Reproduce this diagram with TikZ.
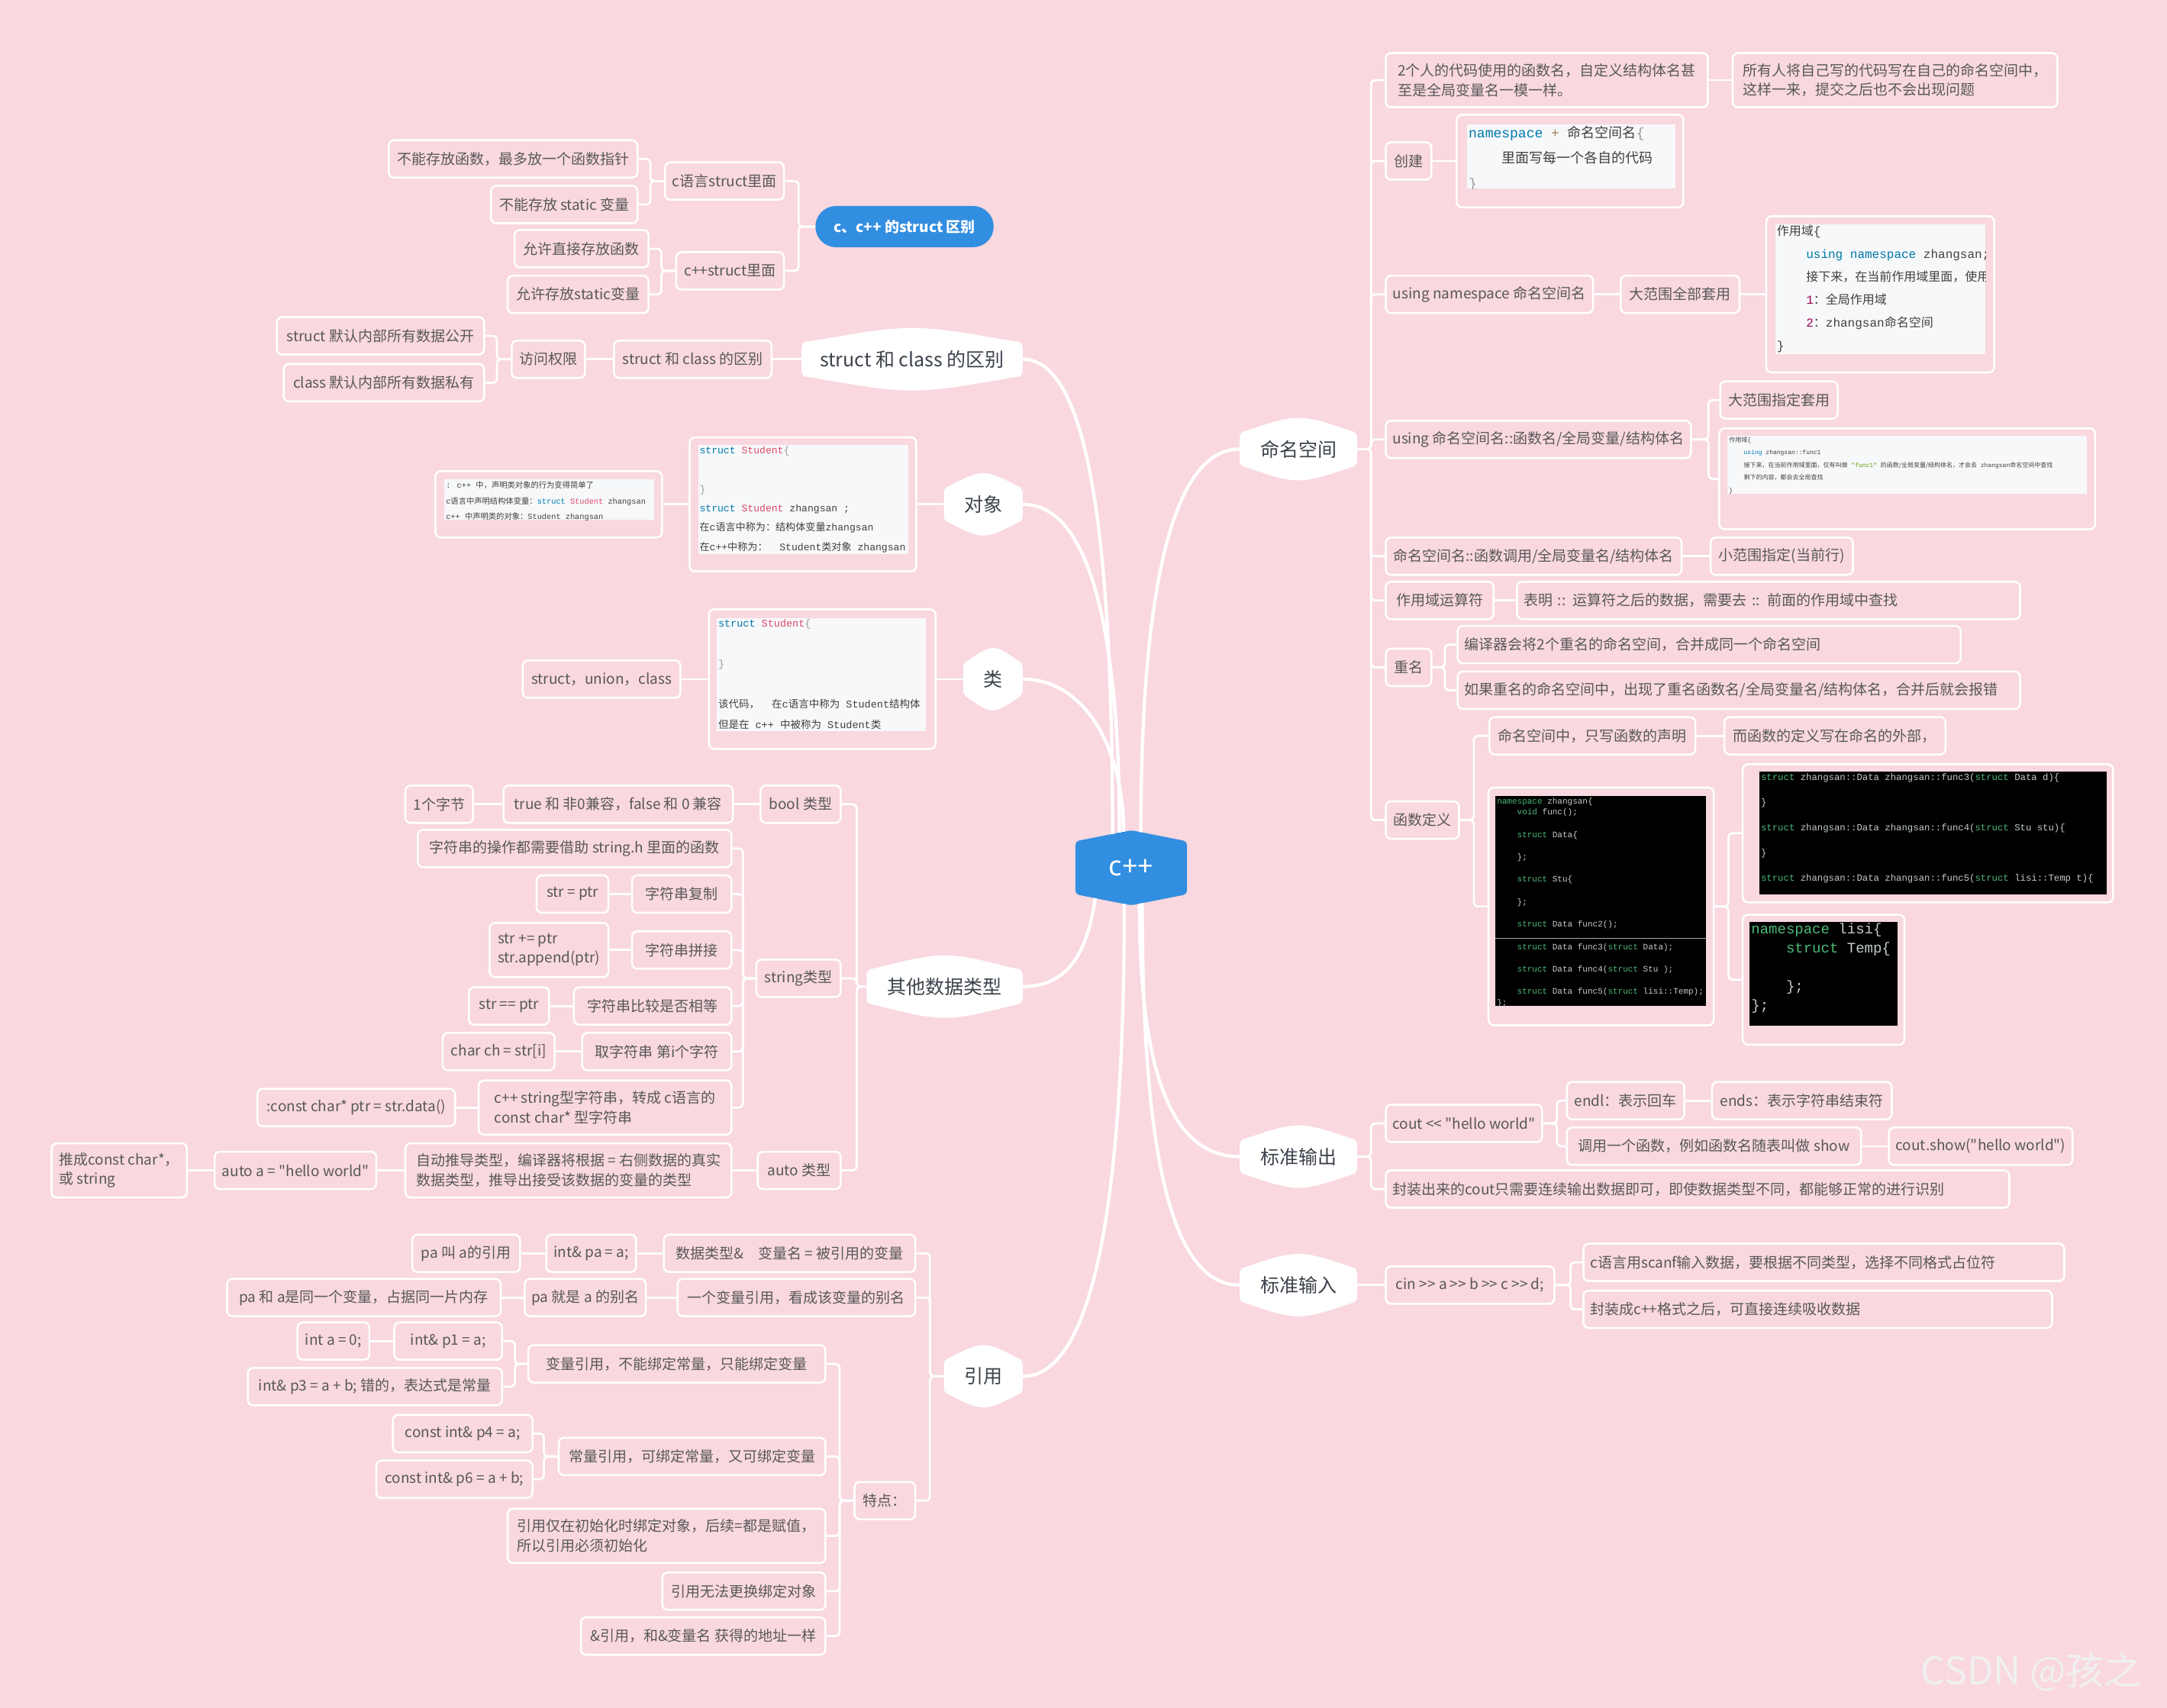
\documentclass[tikz,border=0pt]{standalone}
\usepackage{fontspec}
\usepackage{xcolor}
\usetikzlibrary{positioning,backgrounds,calc}

\newfontfamily\cjk{Noto Sans CJK SC}
\newfontfamily\codemono{Liberation Mono}
\newfontfamily\latinsans{Noto Sans}

\definecolor{bgpink}{RGB}{249,216,223}
\definecolor{cppblue}{RGB}{50,142,224}
\definecolor{txtgray}{RGB}{88,88,88}
\definecolor{topicgray}{RGB}{60,66,76}
\definecolor{codebg}{RGB}{246,248,250}
\definecolor{kwblue}{RGB}{0,119,170}
\definecolor{clsred}{RGB}{221,74,104}
\definecolor{pungray}{RGB}{153,153,153}
\definecolor{numpurple}{RGB}{153,0,85}
\definecolor{strgreen}{RGB}{102,153,0}
\definecolor{opbrown}{RGB}{166,127,89}
\definecolor{termgreen}{RGB}{78,186,120}
\definecolor{termtext}{RGB}{196,206,198}

\newcommand\nodefont{\cjk\fontsize{19}{25.5}\selectfont}
\newcommand\topicfont{\cjk\fontsize{25}{30}\selectfont}
\newcommand\hz[1]{{\cjk #1}}
\newcommand\ckw[1]{\textcolor{kwblue}{#1}}
\newcommand\ccl[1]{\textcolor{clsred}{#1}}
\newcommand\cpu[1]{\textcolor{pungray}{#1}}
\newcommand\cop[1]{\textcolor{opbrown}{#1}}
\newcommand\cnum[1]{\textcolor{numpurple}{#1}}
\newcommand\cstr[1]{\textcolor{strgreen}{#1}}
\newcommand\gk[1]{\textcolor{termgreen}{#1}}
\newcommand\lfork[3][9]{\draw[link] (#2.west) -- ++(-#1,0) |- (#3.east);}
\newcommand\rfork[3][9]{\draw[link] (#2.east) -- ++(#1,0) |- (#3.west);}
\newcommand\lline[2]{\draw[link] (#1.west) -- (#2.east);}
\newcommand\rline[2]{\draw[link] (#1.east) -- (#2.west);}

\begin{document}
\begin{tikzpicture}[
  x=1.8106pt, y=-1.8106pt,
  box/.style={draw=white, line width=2.6pt, rounded corners=7pt, inner xsep=9pt, inner ysep=5pt, minimum height=49pt, font=\nodefont, text=txtgray, align=left},
  two/.style={minimum height=71pt},
  bw/.style={minimum width=#1*1.8106pt},
  bh/.style={minimum height=#1*1.8106pt},
  topic/.style={fill=white, rounded corners=8pt, minimum height=47pt, inner sep=0pt, font=\topicfont, text=topicgray},
  picbox/.style={draw=white, line width=2.6pt, rounded corners=7pt, inner sep=0pt},
  paper/.style={fill=codebg, inner sep=0pt, anchor=north west},
  term/.style={fill=black, inner sep=0pt, anchor=north west},
  code/.style={inner sep=2pt, align=left, anchor=north west, text=black!75},
  link/.style={draw=white, line width=2.8pt, rounded corners=5pt},
  trunk/.style={draw=white, line width=4.4pt}
]
\useasboundingbox (0,0) rectangle (1568,1236);

\node[minimum width=146pt, minimum height=69pt, inner sep=0pt, font=\latinsans\bfseries\fontsize{36}{40}\selectfont, text=white] (cpp) at (818.5,628) {c++};

\node[fill=cppblue, rounded corners=27pt, bw=129, minimum height=54pt, inner sep=0pt, font=\cjk\bfseries\fontsize{19}{23}\selectfont, text=white] (cdiff) at (654.5,164) {c、c++ 的struct 区别};
\node[box, bw=86, anchor=east] (cstr) at (568,131) {c语言struct里面};
\node[box, bw=78, anchor=east] (cppstr) at (568,196) {c++struct里面};
\node[box, bw=180, anchor=east] (cs1) at (462,115) {不能存放函数，最多放一个函数指针};
\node[box, bw=106, anchor=east] (cs2) at (462,148) {不能存放 static 变量};
\node[box, bw=97, anchor=east] (cps1) at (470,180) {允许直接存放函数};
\node[box, bw=102, anchor=east] (cps2) at (470,213) {允许存放static变量};

\node[topic, bw=160] (sc) at (660,260) {struct 和 class 的区别};
\node[box, bw=114, anchor=east] (scd) at (559,260) {struct 和 class 的区别};
\node[box, bw=53, anchor=east] (acc) at (424,260) {访问权限};
\node[box, bw=150, anchor=east] (acc1) at (351,243) {struct 默认内部所有数据公开};
\node[box, bw=145, anchor=east] (acc2) at (351,277) {class 默认内部所有数据私有};

\node[topic, bw=57] (dx) at (711.5,365) {对象};
\node[picbox, bw=164, bh=97] (dxpic) at (581,365) {};
\node[paper, bw=152, bh=79] (dxbg) at (505,322) {};
\node[code, font=\codemono\fontsize{13.1}{25.3}\selectfont] at (dxbg.north west) {\ckw{struct} \ccl{Student}\cpu{\{}\\ ~\\ \cpu{\}}\\ \ckw{struct} \ccl{Student} zhangsan ;\\ \hz{在}c\hz{语言中称为：结构体变量}zhangsan\\ \hz{在}c++\hz{中称为：}\ \ Student\hz{类对象} zhangsan};
\node[picbox, bw=164, bh=48] (dxpic2) at (397,365) {};
\node[paper, bw=151.5, bh=29] (dx2bg) at (321.5,347) {};
\node[code, font=\codemono\fontsize{10.3}{20.8}\selectfont] at (dx2bg.north west) {: c++ \hz{中，声明类对象的行为变得简单了}\\ c\hz{语言中声明结构体变量：}\ckw{struct} \ccl{Student} zhangsan\\ c++ \hz{中声明类的对象：}Student zhangsan};

\node[topic, bw=43] (lei) at (718.5,491.5) {类};
\node[picbox, bw=164, bh=101] (leipic) at (595,491.5) {};
\node[paper, bw=151.5, bh=82] (leibg) at (518.5,447) {};
\begin{scope}
\clip (leibg.north west) rectangle (leibg.south east);
\node[code, font=\codemono\fontsize{13.5}{26.6}\selectfont] at (leibg.north west) {\ckw{struct} \ccl{Student}\cpu{\{}\\ ~\\ \cpu{\}}\\ ~\\ \hz{该代码，}\ \ \hz{在}c\hz{语言中称为} Student\hz{结构体}\\ \hz{但是在} c++ \hz{中被称为} Student\hz{类}};
\end{scope}
\node[box, bw=114, anchor=east] (leisub) at (493,491.5) {struct，union，class};

\node[topic, bw=113] (qt) at (683.5,714) {其他数据类型};
\node[box, bw=58, anchor=east] (tbool) at (609,582) {bool 类型};
\node[box, bw=61, anchor=east] (tstr) at (609,708) {string类型};
\node[box, bw=60, anchor=east] (tauto) at (609,847) {auto 类型};
\node[box, bw=166, anchor=east] (b1) at (531,582) {true 和 非0兼容，false 和 0 兼容};
\node[box, bw=49, anchor=east] (b2) at (343,582) {1个字节};
\node[box, bw=227, anchor=east] (s1) at (530,614) {字符串的操作都需要借助 string.h 里面的函数};
\node[box, bw=72, anchor=east] (s2) at (530,647) {字符串复制};
\node[box, bw=52, anchor=east] (s2a) at (441,647) {str = ptr};
\node[box, bw=72, anchor=east] (s3) at (530,687.5) {字符串拼接};
\node[box, two, bw=86, anchor=east] (s3a) at (441,687.5) {str += ptr\\str.append(ptr)};
\node[box, bw=114, anchor=east] (s4) at (530,728) {字符串比较是否相等};
\node[box, bw=58, anchor=east] (s4a) at (398,728) {str == ptr};
\node[box, bw=108, anchor=east] (s5) at (530,761) {取字符串 第i个字符};
\node[box, bw=81, anchor=east] (s5a) at (402,761) {char ch = str[i]};
\node[box, two, bw=183, anchor=east] (s6) at (530,801.5) {c++ string型字符串，转成 c语言的\\const char* 型字符串};
\node[box, bw=143, anchor=east] (s6a) at (330,801.5) {:const char* ptr = str.data()};
\node[box, two, bw=236, anchor=east] (au1) at (530,847) {自动推导类型，编译器将根据 = 右侧数据的真实\\数据类型，推导出接受该数据的变量的类型};
\node[box, bw=117, anchor=east] (au2) at (273,847) {auto a = "hello world"};
\node[box, two, bw=98, anchor=east] (au3) at (136,847) {推成const char*，\\或 string};

\node[topic, bw=57] (yy) at (711.5,996) {引用};
\node[box, bw=182, anchor=east] (r1) at (663,907) {数据类型\&\quad 变量名 = 被引用的变量};
\node[box, bw=65, anchor=east] (r1a) at (461,907) {int\& pa = a;};
\node[box, bw=78, anchor=east] (r1b) at (377,907) {pa 叫 a的引用};
\node[box, bw=172, anchor=east] (r2) at (663,939) {一个变量引用，看成该变量的别名};
\node[box, bw=86, anchor=east] (r2a) at (468,939) {pa 就是 a 的别名};
\node[box, bw=198, anchor=east] (r2b) at (363,939) {pa 和 a是同一个变量，占据同一片内存};
\node[box, bw=44, anchor=east] (r3) at (663,1086) {特点：};
\node[box, bw=215, anchor=east] (t1) at (598,987) {变量引用，不能绑定常量，只能绑定变量};
\node[box, bw=78, anchor=east] (t1a) at (364,970.5) {int\& p1 = a;};
\node[box, bw=52, anchor=east] (t1aa) at (268,970.5) {int a = 0;};
\node[box, bw=184, anchor=east] (t1b) at (364,1003.5) {int\& p3 = a + b; 错的，表达式是常量};
\node[box, bw=193, anchor=east] (t2) at (598,1054) {常量引用，可绑定常量，又可绑定变量};
\node[box, bw=101, anchor=east] (t2a) at (386,1037.5) {const int\& p4 = a;};
\node[box, bw=113, anchor=east] (t2b) at (386,1070.5) {const int\& p6 = a + b;};
\node[box, two, bw=230, anchor=east] (t3) at (598,1111.5) {引用仅在初始化时绑定对象，后续=都是赋值，\\所以引用必须初始化};
\node[box, bw=118, anchor=east] (t4) at (598,1151.5) {引用无法更换绑定对象};
\node[box, bw=177, anchor=east] (t5) at (598,1184) {\&引用，和\&变量名 获得的地址一样};

\node[topic, bw=85] (ns) at (939.5,325) {命名空间};
\node[box, two, bw=233, anchor=west] (n1) at (1002,58) {2个人的代码使用的函数名，自定义结构体名甚\\至是全局变量名一模一样。};
\node[box, two, bw=235, anchor=west] (n1a) at (1253,58) {所有人将自己写的代码写在自己的命名空间中，\\这样一来，提交之后也不会出现问题};
\node[box, bw=33, anchor=west] (n2) at (1002,116.5) {创建};
\node[picbox, bw=164, bh=67] (n2pic) at (1136,116.5) {};
\node[paper, bw=150.5, bh=46.5] (n2bg) at (1061.5,90) {};
\begin{scope}
\clip (n2bg.north west) rectangle (n2bg.south east);
\node[code, font=\codemono\fontsize{18}{33}\selectfont] at (n2bg.north west) {\ckw{namespace} \cop{+} \hz{命名空间名}\cpu{\{}\\ \phantom{xxxx}\hz{里面写每一个各自的代码}\\ \cpu{\}}};
\end{scope}
\node[box, bw=150, anchor=west] (n3) at (1002,213) {using namespace 命名空间名};
\node[box, bw=86, anchor=west] (n3a) at (1172,213) {大范围全部套用};
\node[picbox, bw=165, bh=113] (n3pic) at (1360.5,213) {};
\node[paper, bw=152, bh=94] (n3bg) at (1284.5,162) {};
\begin{scope}
\clip (n3bg.north west) rectangle (n3bg.south east);
\node[code, font=\codemono\fontsize{16}{30}\selectfont] at (n3bg.north west) {\hz{作用域}\{\\ \phantom{xxxx}\ckw{using} \ckw{namespace} zhangsan;\\ \phantom{xxxx}\hz{接下来，在当前作用域里面，使用}\\ \phantom{xxxx}\cnum{1}\hz{：全局作用域}\\ \phantom{xxxx}\cnum{2}\hz{：}zhangsan\hz{命名空间}\\ \}};
\end{scope}
\node[box, bw=220, anchor=west] (n4) at (1002,318) {using 命名空间名::函数名/全局变量/结构体名};
\node[box, bw=85, anchor=west] (n4a) at (1244,289.5) {大范围指定套用};
\node[picbox, bw=272, bh=73] (n4pic) at (1380,346.5) {};
\node[paper, bw=260, bh=42] (n4bg) at (1250,315) {};
\node[code, font=\codemono\fontsize{8}{16.5}\selectfont] at (n4bg.north west) {\hz{作用域}\{\\ \phantom{xxxx}\ckw{using} zhangsan::func1\\ \phantom{xxxx}\hz{接下来，在当前作用域里面，仅有叫做} \cstr{"func1"} \hz{的函数/全局变量/结构体名，才会去} zhangsan\hz{命名空间中查找}\\ \phantom{xxxx}\hz{剩下的内容，都会去全局查找}\\ \}};
\node[box, bw=214, anchor=west] (n5) at (1002,402.5) {命名空间名::函数调用/全局变量名/结构体名};
\node[box, bw=103, anchor=west] (n5a) at (1237,402.5) {小范围指定(当前行)};
\node[box, bw=78, anchor=west] (n6) at (1002,434.5) {作用域运算符};
\node[box, text width=641pt, anchor=west] (n6a) at (1097,434.5) {表明 :: 运算符之后的数据，需要去 :: 前面的作用域中查找};
\node[box, bw=33, anchor=west] (n7) at (1002,483) {重名};
\node[box, text width=641pt, anchor=west] (n7a) at (1054,466.5) {编译器会将2个重名的命名空间，合并成同一个命名空间};
\node[box, text width=719pt, anchor=west] (n7b) at (1054,499.5) {如果重名的命名空间中，出现了重名函数名/全局变量名/结构体名，合并后就会报错};
\node[box, bw=53, anchor=west] (n8) at (1002,593.5) {函数定义};
\node[box, bw=149, anchor=west] (n8a) at (1077,532.5) {命名空间中，只写函数的声明};
\node[box, bw=160, anchor=west] (n8b) at (1247,532.5) {而函数的定义写在命名的外部，};
\node[picbox, bw=163, bh=172] (fd1) at (1158.5,656) {};
\node[term, bw=152.5, bh=152] (fd1bg) at (1082,576) {};
\node[code, text=termtext, font=\codemono\fontsize{11}{14.7}\selectfont] at (fd1bg.north west) {\gk{namespace} zhangsan\{\\ \phantom{xxxx}\gk{void} func();\\ ~\\ \phantom{xxxx}\gk{struct} Data\{\\ ~\\ \phantom{xxxx}\};\\ ~\\ \phantom{xxxx}\gk{struct} Stu\{\\ ~\\ \phantom{xxxx}\};\\ ~\\ \phantom{xxxx}\gk{struct} Data func2();\\ ~\\ \phantom{xxxx}\gk{struct} Data func3(\gk{struct} Data);\\ ~\\ \phantom{xxxx}\gk{struct} Data func4(\gk{struct} Stu );\\ ~\\ \phantom{xxxx}\gk{struct} Data func5(\gk{struct} lisi::Temp);\\ \};};
\coordinate (fdsep) at (1100,679);
\draw[gray!70, line width=1pt] (fd1bg.west |- fdsep) -- (fd1bg.east |- fdsep);
\node[picbox, bw=268, bh=100] (fd2) at (1395,603) {};
\node[term, bw=251, bh=89] (fd2bg) at (1273,558.4) {};
\node[code, text=termtext, font=\codemono\fontsize{12.3}{16.6}\selectfont] at (fd2bg.north west) {\gk{struct} zhangsan::Data zhangsan::func3(\gk{struct} Data d)\{\\ ~\\ \}\\ ~\\ \gk{struct} zhangsan::Data zhangsan::func4(\gk{struct} Stu stu)\{\\ ~\\ \}\\ ~\\ \gk{struct} zhangsan::Data zhangsan::func5(\gk{struct} lisi::Temp t)\{};
\node[picbox, bw=117, bh=94] (fd3) at (1319.5,709) {};
\node[term, bw=107, bh=75] (fd3bg) at (1266,667) {};
\node[code, text=termtext, font=\codemono\fontsize{19}{25}\selectfont] at (fd3bg.north west) {\gk{namespace} lisi\{\\ \phantom{xxxx}\gk{struct} Temp\{\\ ~\\ \phantom{xxxx}\};\\ \};};

\node[topic, bw=85] (sout) at (939.5,837) {标准输出};
\node[box, bw=111, anchor=west] (o1) at (1002,813) {cout << "hello world"};
\node[box, bw=85, anchor=west] (o1a) at (1133,796.5) {endl：表示回车};
\node[box, bw=130, anchor=west] (o1aa) at (1238,796.5) {ends：表示字符串结束符};
\node[box, bw=213, anchor=west] (o1b) at (1133,829.5) {调用一个函数，例如函数名随表叫做 show};
\node[box, bw=126, anchor=west] (o1ba) at (1366,829.5) {cout.show("hello world")};
\node[box, text width=799pt, anchor=west] (o2) at (1002,860.5) {封装出来的cout只需要连续输出数据即可，即使数据类型不同，都能够正常的进行识别};

\node[topic, bw=85] (sin) at (939.5,930) {标准输入};
\node[box, bw=122, anchor=west] (i1) at (1002,930) {cin >> a >> b >> c >> d;};
\node[box, text width=612pt, anchor=west] (i1a) at (1145,913.5) {c语言用scanf输入数据，要根据不同类型，选择不同格式占位符};
\node[box, text width=596pt, anchor=west] (i1b) at (1145,947.5) {封装成c++格式之后，可直接连续吸收数据};

\node[anchor=west, inner sep=0pt, font=\cjk\fontsize{50}{56}\selectfont, text=white!88!gray] (mark) at (1390,1210) {CSDN @孩之};

\draw[trunk] ($(cpp.north)+(-13.5,-5.3)$) .. controls +(0,-200) and +(50,0) .. (sc.east);
\draw[trunk] ($(cpp.north)+(-8.5,-6.3)$) .. controls +(0,-140) and +(50,0) .. (dx.east);
\draw[trunk] ($(cpp.north)+(-5.5,-6.9)$) .. controls +(0,-60) and +(45,0) .. (lei.east);
\draw[trunk] ($(cpp.north)+(7,-6.6)$) .. controls +(0,-170) and +(-50,0) .. (ns.west);
\draw[trunk] ($(cpp.south)+(-26,2.8)$) .. controls +(-5,35) and +(35,0) .. (qt.east);
\draw[trunk] ($(cpp.south)+(-5,7)$) .. controls +(0,220) and +(50,0) .. (yy.east);
\draw[trunk] ($(cpp.south)+(6,6.8)$) .. controls +(0,120) and +(-50,0) .. (sout.west);
\draw[trunk] ($(cpp.south)+(8,6.4)$) .. controls +(0,180) and +(-50,0) .. (sin.west);

\lfork[12]{cdiff}{cstr} \lfork[12]{cdiff}{cppstr}
\lfork[10]{cstr}{cs1} \lfork[10]{cstr}{cs2}
\lfork[10]{cppstr}{cps1} \lfork[10]{cppstr}{cps2}
\lline{sc}{scd} \lline{scd}{acc}
\lfork[10]{acc}{acc1} \lfork[10]{acc}{acc2}
\lline{dx}{dxpic} \lline{dxpic}{dxpic2}
\lline{lei}{leipic} \lline{leipic}{leisub}
\lfork[7]{qt}{tbool} \lfork[7]{qt}{tstr} \lfork[7]{qt}{tauto}
\lline{tbool}{b1} \lline{b1}{b2}
\foreach \s in {s1,s2,s3,s4,s5,s6} {\lfork{tstr}{\s}}
\lline{s2}{s2a} \lline{s3}{s3a} \lline{s4}{s4a} \lline{s5}{s5a} \lline{s6}{s6a}
\lline{tauto}{au1} \lline{au1}{au2} \lline{au2}{au3}
\lfork[10]{yy}{r1} \lfork[10]{yy}{r2} \lfork[10]{yy}{r3}
\lline{r1}{r1a} \lline{r1a}{r1b} \lline{r2}{r2a} \lline{r2a}{r2b}
\foreach \s in {t1,t2,t3,t4,t5} {\lfork[10]{r3}{\s}}
\lfork{t1}{t1a} \lfork{t1}{t1b} \lline{t1a}{t1aa}
\lfork[10]{t2}{t2a} \lfork[10]{t2}{t2b}

\foreach \s in {n1,n2,n3,n4,n5,n6,n7,n8} {\rfork[10]{ns}{\s}}
\rline{n1}{n1a} \rline{n2}{n2pic} \rline{n3}{n3a} \rline{n3a}{n3pic}
\rfork[12]{n4}{n4a} \rfork[12]{n4}{n4pic}
\rline{n5}{n5a} \rline{n6}{n6a}
\rfork{n7}{n7a} \rfork{n7}{n7b}
\rfork[10]{n8}{n8a} \rfork[10]{n8}{fd1} \rline{n8a}{n8b}
\rfork[10]{fd1}{fd2} \rfork[10]{fd1}{fd3}
\rfork[10]{sout}{o1} \rfork[10]{sout}{o2}
\rfork[10]{o1}{o1a} \rfork[10]{o1}{o1b} \rline{o1a}{o1aa} \rline{o1b}{o1ba}
\rline{sin}{i1}
\rfork[11]{i1}{i1a} \rfork[11]{i1}{i1b}

\begin{scope}[on background layer]
\fill[bgpink] (0,0) rectangle (1568,1236);
\fill[cppblue, rounded corners=5pt] (cpp.south west) -- (cpp.north west) -- ($(cpp.north)+(0,-8)$) -- (cpp.north east) -- (cpp.south east) -- ($(cpp.south)+(0,8)$) -- cycle;
\foreach \nd in {sc,dx,lei,qt,yy,ns,sout,sin} {
  \fill[white] ($(\nd.north west)+(1.5,1)$) .. controls ($(\nd.north)+(0,-13)$) .. ($(\nd.north east)+(-1.5,1)$) -- cycle;
  \fill[white] ($(\nd.south west)+(1.5,-1)$) .. controls ($(\nd.south)+(0,13)$) .. ($(\nd.south east)+(-1.5,-1)$) -- cycle;
}
\end{scope}
\end{tikzpicture}
\end{document}
